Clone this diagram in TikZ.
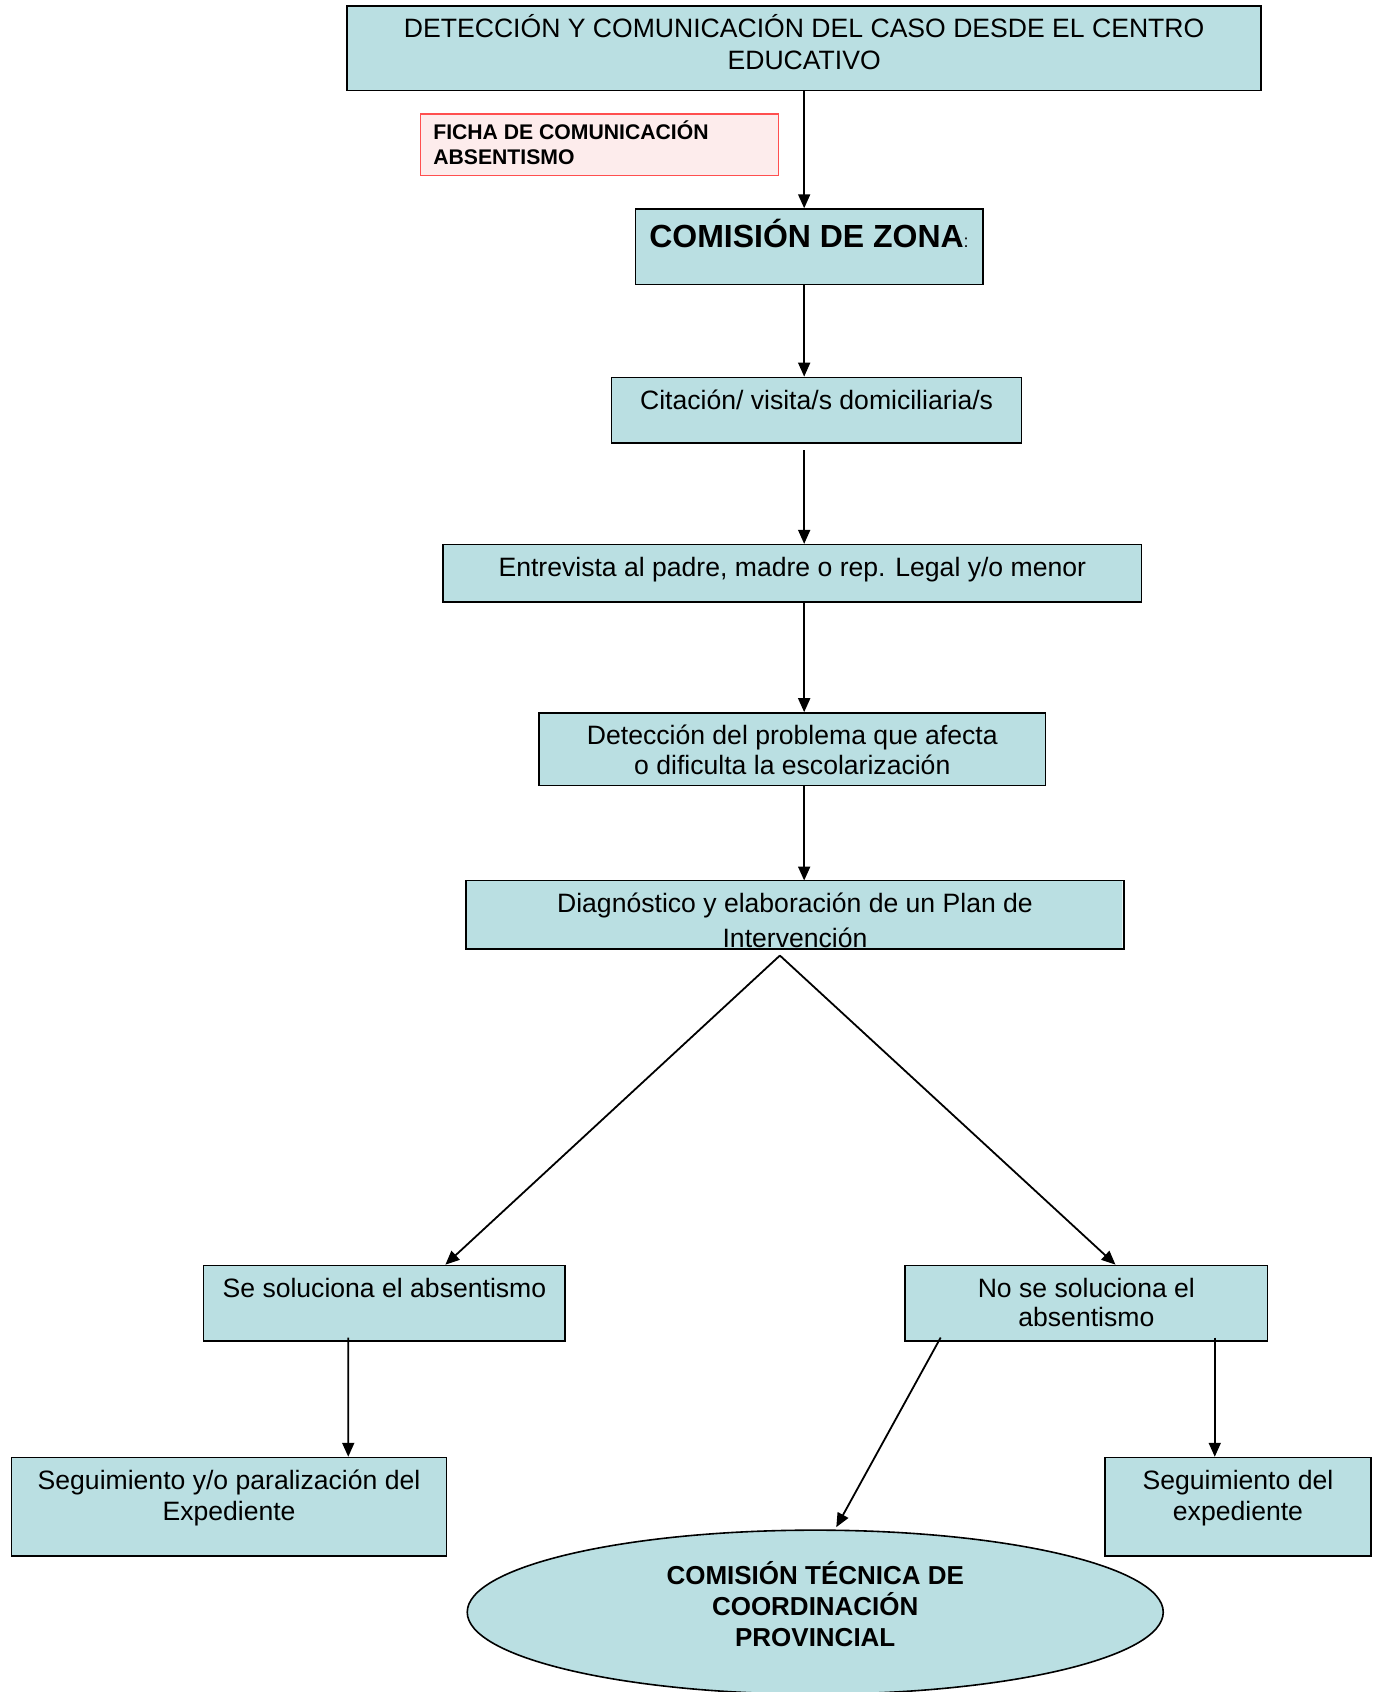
\documentclass[tikz,border=0pt]{standalone}
\usepackage{fontspec}
\setmainfont{Liberation Sans}
\usetikzlibrary{arrows.meta,calc,shapes.geometric}

\definecolor{boxfill}{HTML}{BADFE2}
\definecolor{fichafill}{HTML}{FDECEC}
\definecolor{ficharule}{HTML}{FF4F4F}

\newdimen\unitpx \unitpx=0.54pt
\newcommand{\txtfont}{\fontsize{13.3pt}{15.9pt}\selectfont}
\newcommand{\boxtext}[3]{\parbox[c][#2\unitpx][t]{#1\unitpx}{\centering\rule{0pt}{29.3\unitpx}#3}}

\tikzstyle{block} = [draw, rectangle, fill=boxfill, inner sep=0pt, line width=0.8pt, font=\txtfont]
\tikzstyle{ficha} = [draw=ficharule, rectangle, fill=fichafill, inner sep=0pt, line width=0.6pt]
\tikzstyle{comision} = [draw, ellipse, fill=boxfill, inner sep=0pt, line width=0.8pt,
  minimum width=645*0.54pt, minimum height=152*0.54pt, font=\fontsize{13pt}{15.4pt}\selectfont\bfseries]
\tikzstyle{line} = [draw, line width=0.9pt, -{Triangle[length=7pt,width=6pt]}]

\begin{document}
\begin{tikzpicture}[x=0.54pt, y=-0.54pt]
  \clip (0,0) rectangle (1275,1568);

  \node [block, anchor=north west] (centro) at (321,5)
    {\boxtext{847}{78}{DETECCIÓN Y COMUNICACIÓN DEL CASO DESDE EL CENTRO\\EDUCATIVO}};

  \node [ficha, anchor=north west] (ficha) at (389,105)
    {\parbox[c][57\unitpx][t]{332\unitpx}{\raggedright\leftskip=12\unitpx
      \fontsize{10.6pt}{12.4pt}\selectfont\bfseries\rule{0pt}{24\unitpx}FICHA DE COMUNICACIÓN\\ABSENTISMO}};

  \node [block, anchor=north west] (zona) at (588,193)
    {\parbox[c][70\unitpx][t]{322\unitpx}{\centering\rule{0pt}{35.6\unitpx}%
      {\fontsize{16pt}{19pt}\selectfont\bfseries COMISIÓN DE ZONA}{\fontsize{9pt}{11pt}\selectfont:}}};

  \node [block, anchor=north west] (cit) at (566,349)
    {\boxtext{380}{61}{Citación/ visita/s domiciliaria/s}};
  \node [block, anchor=north west] (entr) at (410,504)
    {\boxtext{647}{53}{Entrevista al padre, madre o rep. Legal y/o menor}};
  \node [block, anchor=north west] (det) at (499,660)
    {\boxtext{469}{67}{Detección del problema que afecta\\[-1pt]o dificulta la escolarización}};

  % el texto queda cortado por el borde inferior
  \begin{scope}
    \clip (432,816) rectangle (1040,878);
    \node [block, draw=none, anchor=north west] (diag) at (432,816)
      {\boxtext{608}{62}{Diagnóstico y elaboración de un Plan de\\[1.2pt]Intervención}};
  \end{scope}
  \draw [line width=0.8pt] (diag.south west) rectangle (diag.north east);

  \node [block, anchor=north west] (sol) at (188,1172)
    {\boxtext{335}{70}{Se soluciona el absentismo}};
  \node [block, anchor=north west] (nosol) at (838,1172)
    {\boxtext{336}{70}{No se soluciona el\\[-1pt]absentismo}};
  \node [block, anchor=north west] (segl) at (10,1350)
    {\boxtext{403}{91}{Seguimiento y/o paralización del\\Expediente}};
  \node [block, anchor=north west] (segr) at (1023,1350)
    {\boxtext{247}{91}{Seguimiento del\\expediente}};
  \node [comision] (ctc) at (755.5,1494)
    {\parbox{400\unitpx}{\centering COMISIÓN TÉCNICA DE\\COORDINACIÓN\\PROVINCIAL\par\vspace{15\unitpx}}};

  \draw [line] (centro.south) -- (centro.south |- zona.north);
  \draw [line] (centro.south |- zona.south) -- (centro.south |- cit.north);
  \draw [line, shorten <=3pt] (centro.south |- cit.south) -- (centro.south |- entr.north);
  \draw [line] (centro.south |- entr.south) -- (centro.south |- det.north);
  \draw [line] (centro.south |- det.south) -- (centro.south |- diag.north);

  \coordinate (split) at ($(diag.south)+(-14,6)$);
  \draw [line] (split) -- ($(sol.north)+(56.5,0)$);
  \draw [line] (split) -- ($(nosol.north)+(27,0)$);

  \draw [line] ($(sol.south)+(-33.5,-4)$) -- ($(segl.north)+(110.5,0)$);
  \draw [line] ($(nosol.south)+(-135,-4)$) -- ($(ctc.north)+(19.5,-2)$);
  \draw [line] ($(nosol.south)+(119,-4)$) -- ($(segr.north)+(-21.5,0)$);
\end{tikzpicture}
\end{document}
